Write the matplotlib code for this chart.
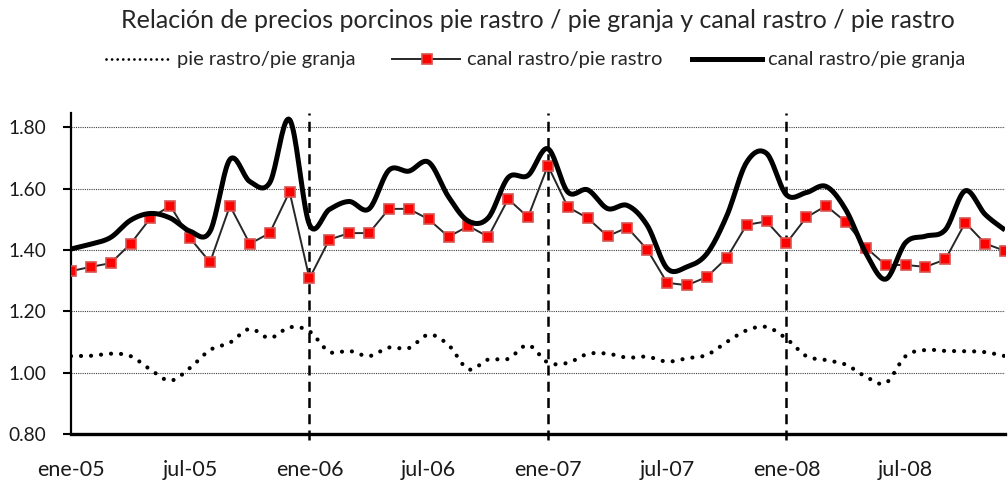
import numpy as np
import matplotlib
matplotlib.use("Agg")
import matplotlib.pyplot as plt
from matplotlib.lines import Line2D

plt.rcParams['font.family'] = ['Lato', 'DejaVu Sans']

# monthly data ene-05 .. dic-08
meses = ['ene-05', 'jul-05', 'ene-06', 'jul-06', 'ene-07', 'jul-07', 'ene-08', 'jul-08']

pie_rastro_granja = [1.054, 1.055, 1.062, 1.054, 1.010, 0.974, 1.016, 1.074, 1.098, 1.143, 1.113, 1.148,
                     1.135, 1.068, 1.071, 1.054, 1.082, 1.080, 1.124, 1.090, 1.011, 1.043, 1.045, 1.090,
                     1.033, 1.032, 1.061, 1.062, 1.049, 1.052, 1.036, 1.047, 1.058, 1.100, 1.138, 1.149,
                     1.111, 1.054, 1.041, 1.026, 0.987, 0.966, 1.054, 1.074, 1.071, 1.070, 1.067, 1.054]

canal_pie_rastro = [1.331, 1.345, 1.357, 1.420, 1.504, 1.544, 1.438, 1.360, 1.544, 1.420, 1.455, 1.590,
                    1.307, 1.434, 1.455, 1.455, 1.534, 1.534, 1.500, 1.443, 1.478, 1.443, 1.566, 1.507,
                    1.675, 1.540, 1.504, 1.445, 1.473, 1.401, 1.293, 1.285, 1.312, 1.374, 1.482, 1.493,
                    1.422, 1.506, 1.544, 1.491, 1.408, 1.351, 1.351, 1.345, 1.369, 1.489, 1.421, 1.397]

canal_pie_granja = [1.403, 1.419, 1.441, 1.497, 1.519, 1.504, 1.461, 1.461, 1.695, 1.623, 1.619, 1.825,
                    1.483, 1.532, 1.558, 1.534, 1.660, 1.657, 1.686, 1.573, 1.494, 1.505, 1.636, 1.643,
                    1.730, 1.589, 1.596, 1.535, 1.545, 1.480, 1.340, 1.345, 1.388, 1.511, 1.686, 1.715,
                    1.580, 1.587, 1.607, 1.530, 1.390, 1.305, 1.424, 1.445, 1.466, 1.593, 1.516, 1.465]


def smooth(y, n=20):
    # catmull-rom, like excel "smoothed line"
    y = np.asarray(y, float)
    x = np.arange(len(y), dtype=float)
    px = np.concatenate([[x[0]], x, [x[-1]]])
    py = np.concatenate([[y[0]], y, [y[-1]]])
    xs, ys = [], []
    t = np.linspace(0, 1, n, endpoint=False)
    for i in range(1, len(px) - 2):
        for p, out in ((px, xs), (py, ys)):
            p0, p1, p2, p3 = p[i - 1], p[i], p[i + 1], p[i + 2]
            out.extend(0.5 * ((2 * p1) + (-p0 + p2) * t + (2 * p0 - 5 * p1 + 4 * p2 - p3) * t ** 2
                              + (-p0 + 3 * p1 - 3 * p2 + p3) * t ** 3))
    xs.append(x[-1])
    ys.append(y[-1])
    return np.array(xs), np.array(ys)


fig = plt.figure(figsize=(10.08, 4.83), dpi=100)
ax = fig.add_axes([0.0704, 0.1014, 0.9266, 0.6656])

x = np.arange(len(canal_pie_rastro))

# grid
for v in [1.0, 1.2, 1.4, 1.6, 1.8]:
    ax.axhline(v, color='#404040', lw=0.8, ls=(0, (1, 1)), zorder=1)
for m in [12, 24, 36]:
    ax.axvline(m, color='black', lw=1.8, ls=(0, (4, 2.5)), zorder=2, clip_on=False, ymin=-0.02)

sx, sy = smooth(pie_rastro_granja)
ax.plot(sx, sy, color='black', lw=3.0, ls=(0, (0.01, 2.4)), dash_capstyle='round', zorder=3)

ax.plot(x, canal_pie_rastro, color='#262626', lw=1.4, marker='s', markersize=7.5,
        markerfacecolor='#ff0000', markeredgecolor='#d9534f', markeredgewidth=1.2, zorder=4)

sx, sy = smooth(canal_pie_granja)
ax.plot(sx, sy, color='black', lw=3.6, solid_capstyle='butt', zorder=5)

ax.set_xlim(0, 47)
ax.set_ylim(0.8, 1.848)
ax.set_yticks([0.8, 1.0, 1.2, 1.4, 1.6, 1.8])
ax.set_yticklabels(['%.2f' % v for v in [0.8, 1.0, 1.2, 1.4, 1.6, 1.8]])
ax.set_xticks(np.arange(0, 48, 6))
ax.set_xticklabels(meses)
ax.set_xticks([0, 12, 24, 36], minor=True)
ax.tick_params(axis='x', which='major', length=0, pad=19, labelsize=15.5, labelcolor='#1a1a1a')
ax.tick_params(axis='x', which='minor', length=6, width=1.5, direction='out')
ax.tick_params(axis='y', length=6, width=1.5, direction='out', labelsize=13.8, pad=12,
               labelcolor='#1a1a1a')
for s in ['top', 'right']:
    ax.spines[s].set_visible(False)
ax.spines['left'].set_linewidth(1.6)
ax.spines['bottom'].set_linewidth(2.4)

fig.text(0.534, 0.958, 'Relación de precios porcinos pie rastro / pie granja y canal rastro / pie rastro',
         ha='center', va='center', fontsize=18, color='#262626')

# legend drawn by hand
ly = 0.877
fs = 14.5
fig.add_artist(Line2D([106 / 1008, 170 / 1008], [ly, ly], color='black', lw=2.0,
                      ls=(0, (0.01, 2.0)), dash_capstyle='round'))
fig.text(177 / 1008, ly, 'pie rastro/pie granja', va='center', fontsize=fs, color='#262626')
fig.add_artist(Line2D([392 / 1008, 460 / 1008], [ly, ly], color='#262626', lw=1.4))
fig.add_artist(Line2D([427 / 1008], [ly], marker='s', markersize=7.5, markerfacecolor='#ff0000',
                      markeredgecolor='#d9534f', markeredgewidth=1.2))
fig.text(467 / 1008, ly, 'canal rastro/pie rastro', va='center', fontsize=fs, color='#262626')
fig.add_artist(Line2D([692 / 1008, 762 / 1008], [ly, ly], color='black', lw=3.6))
fig.text(768 / 1008, ly, 'canal rastro/pie granja', va='center', fontsize=fs, color='#262626')

fig.savefig('out.png', dpi=100)
